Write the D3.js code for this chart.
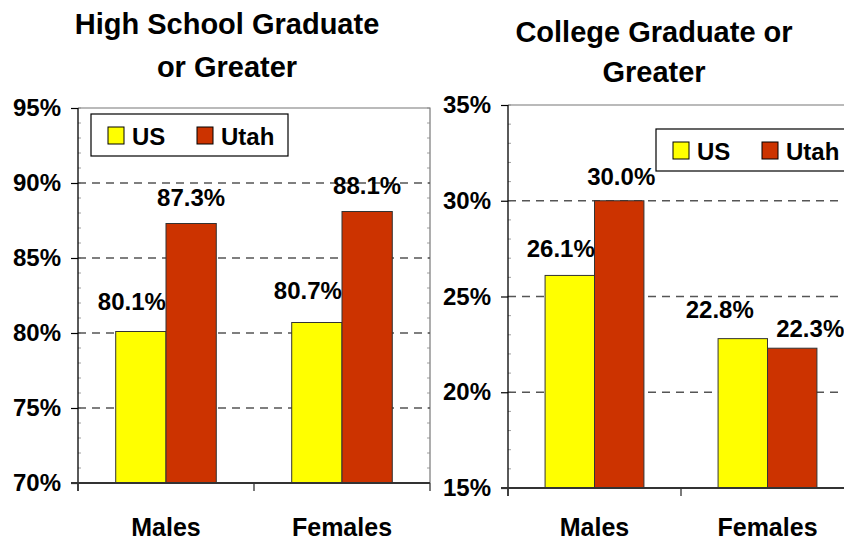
<!DOCTYPE html>
<html>
<head>
<meta charset="utf-8">
<script src="https://cdn.jsdelivr.net/npm/d3@7"></script>
<style>
  html, body { margin: 0; padding: 0; background: #fff; }
  svg { display: block; font-family: "Liberation Sans", Arial, sans-serif; font-weight: bold; }
</style>
</head>
<body>
<svg id="chart" width="844" height="542"></svg>
<script>
// Educational attainment by sex, US vs Utah
const categories = ["Males", "Females"];
const series = ["US", "Utah"];

const highSchoolUS   = [80.1, 80.7];
const highSchoolUtah = [87.3, 88.1];
const highSchoolTicks = [70, 75, 80, 85, 90, 95];

const collegeUS   = [26.1, 22.8];
const collegeUtah = [30.0, 22.3];
const collegeTicks = [15, 20, 25, 30, 35];

const colors = { US: "#FFFF00", Utah: "#CC3300" };

const svg = d3.select("#chart");

function drawPanel(opt) {
  const values = { US: opt.us, Utah: opt.utah };
  const ticks = opt.ticks;
  const y = d3.scaleLinear().domain([ticks[0], ticks[ticks.length - 1]]).range([opt.bottom, opt.top]);
  const x = d3.scaleBand().domain(categories).range([opt.left, opt.right]).padding(0);
  const xs = d3.scaleBand().domain(series).range([0, x.bandwidth()]).paddingInner(0).paddingOuter(0.75);

  const g = svg.append("g");

  // plot frame (top and right)
  g.append("path")
    .attr("d", `M${opt.left},${opt.top}H${opt.right}V${opt.bottom}`)
    .attr("fill", "none").attr("stroke", "#777").attr("stroke-width", 1.2);

  // minor ticks along the frame and the value axis
  const minor = d3.range(ticks[0], ticks[ticks.length - 1] + 0.001, 1);
  g.selectAll(".minorL").data(minor).join("line")
    .attr("x1", opt.left).attr("x2", opt.left + 3)
    .attr("y1", d => y(d)).attr("y2", d => y(d))
    .attr("stroke", "#888").attr("stroke-width", 0.8);
  g.selectAll(".minorR").data(minor).join("line")
    .attr("x1", opt.right - 3).attr("x2", opt.right)
    .attr("y1", d => y(d)).attr("y2", d => y(d))
    .attr("stroke", "#888").attr("stroke-width", 0.8);

  // dashed gridlines
  g.selectAll(".grid").data(ticks.slice(1, -1)).join("line")
    .attr("x1", opt.left).attr("x2", opt.right)
    .attr("y1", d => y(d)).attr("y2", d => y(d))
    .attr("stroke", "#555").attr("stroke-width", 1.3)
    .attr("stroke-dasharray", "8,6");

  // bars
  series.forEach(s => {
    g.selectAll(".bar-" + s).data(categories).join("rect")
      .attr("x", c => x(c) + xs(s))
      .attr("y", (c, i) => y(values[s][i]))
      .attr("width", xs.bandwidth())
      .attr("height", (c, i) => opt.bottom - y(values[s][i]))
      .attr("fill", colors[s])
      .attr("stroke", "#333").attr("stroke-width", 1);
  });

  // value labels
  series.forEach(s => {
    g.selectAll(".lab-" + s).data(categories).join("text")
      .attr("x", (c, i) => x(c) + xs(s) + xs.bandwidth() / 2 + opt.labelShift[s][i][0])
      .attr("y", (c, i) => y(values[s][i]) - opt.labelShift[s][i][1])
      .attr("text-anchor", "middle")
      .attr("font-size", 24)
      .text((c, i) => values[s][i].toFixed(1) + "%");
  });

  // value axis
  const yAxis = g.append("g").attr("transform", `translate(${opt.left},0)`)
    .call(d3.axisLeft(y).tickValues(ticks).tickSize(7).tickPadding(10).tickFormat(d => d + "%"));
  yAxis.select(".domain").attr("stroke", "#000").attr("stroke-width", 1.3)
    .attr("d", `M0,${opt.top}V${opt.bottom + 8}`);
  yAxis.selectAll(".tick line").attr("stroke", "#000").attr("stroke-width", 1.2);
  yAxis.selectAll(".tick text").attr("font-size", 24).attr("fill", "#000")
    .attr("font-family", "Liberation Sans, Arial, sans-serif").attr("font-weight", "bold");

  // category axis
  g.append("line")
    .attr("x1", opt.left - 7).attr("x2", opt.right)
    .attr("y1", opt.bottom).attr("y2", opt.bottom)
    .attr("stroke", "#333").attr("stroke-width", 2);
  const edges = categories.map(c => x(c)).concat([opt.right]);
  g.selectAll(".ctick").data(edges).join("line")
    .attr("x1", d => d).attr("x2", d => d)
    .attr("y1", opt.bottom).attr("y2", opt.bottom + 8)
    .attr("stroke", "#333").attr("stroke-width", 1.3);
  g.selectAll(".clab").data(categories).join("text")
    .attr("x", c => x(c) + x.bandwidth() / 2)
    .attr("y", 536)
    .attr("text-anchor", "middle")
    .attr("font-size", 25)
    .text(c => c);

  // legend
  const lg = g.append("g").attr("transform", `translate(${opt.legend[0]},${opt.legend[1]})`);
  lg.append("rect").attr("width", opt.legend[2]).attr("height", 42)
    .attr("fill", "#fff").attr("stroke", "#000").attr("stroke-width", 1.2);
  const lx = [17, 106];
  series.forEach((s, i) => {
    lg.append("rect").attr("x", lx[i]).attr("y", 13).attr("width", 16).attr("height", 17)
      .attr("fill", colors[s]).attr("stroke", "#000").attr("stroke-width", 1);
    lg.append("text").attr("x", lx[i] + 24).attr("y", 31).attr("font-size", 24).text(s);
  });

  // title
  const t = svg.append("text").attr("text-anchor", "middle").attr("font-size", 29);
  opt.title.forEach((line, i) => {
    t.append("tspan").attr("x", opt.titleX).attr("y", opt.titleY + i * opt.titleGap).text(line);
  });
}

drawPanel({
  us: highSchoolUS, utah: highSchoolUtah, ticks: highSchoolTicks,
  left: 78, right: 430, top: 108, bottom: 483,
  legend: [91, 114, 197],
  title: ["High School Graduate", "or Greater"], titleX: 227, titleY: 34, titleGap: 43,
  labelShift: { US: [[-9, 22], [-9, 24]], Utah: [[0, 18], [0, 18]] }
});

drawPanel({
  us: collegeUS, utah: collegeUtah, ticks: collegeTicks,
  left: 508, right: 854, top: 105, bottom: 488,
  legend: [656, 129, 200],
  title: ["College Graduate or", "Greater"], titleX: 654, titleY: 42, titleGap: 40,
  labelShift: { US: [[-9, 18], [-23, 21]], Utah: [[2, 16], [18, 11]] }
});
</script>
</body>
</html>
